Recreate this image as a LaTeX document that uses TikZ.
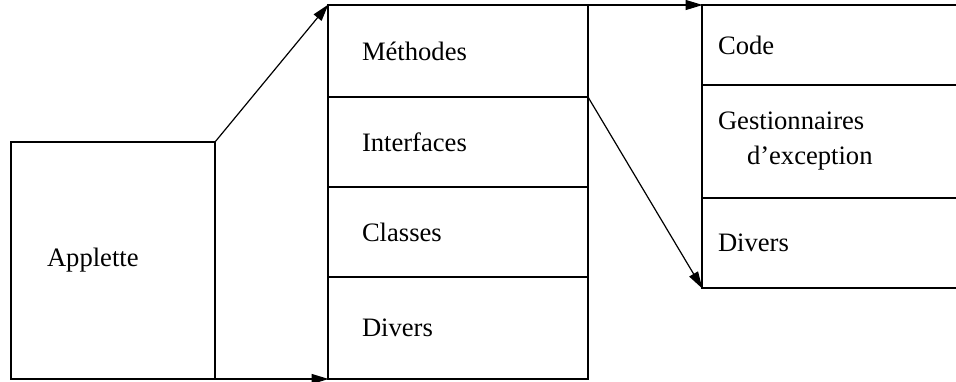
\documentclass[tikz,border=0pt]{standalone}
\usepackage{fontspec}
\setmainfont{Liberation Serif}
\usetikzlibrary{arrows.meta, positioning}

\tikzset{
  cell/.style={draw, line width=0.6pt, outer sep=0pt, inner ysep=0pt, align=left,
    font=\fontsize{13.3}{17.5}\selectfont},
  midcell/.style={cell, minimum width=130pt, inner xsep=17pt, text width=96pt},
  rightcell/.style={cell, minimum width=130pt, inner xsep=8pt, text width=114pt},
  link/.style={line width=0.6pt, -{Triangle[length=8.5pt, width=5pt]}, shorten >=-0.3pt}
}

\begin{document}
\begin{tikzpicture}[x=0.5pt, y=-0.5pt]
  \clip (0,0) rectangle (956,381);

  % --- applette ---
  \node[cell, anchor=north west, minimum width=102pt, minimum height=118.5pt,
        inner xsep=18pt, text width=66pt] (app) at (11,142) {Applette};

  % --- contenu de l'applette ---
  \node[midcell, anchor=north west, minimum height=46pt] (meth) at (328,5) {Méthodes};
  \node[midcell, minimum height=45pt, below=0pt of meth] (intf) {Interfaces};
  \node[midcell, minimum height=45pt, below=0pt of intf] (cls) {Classes};
  \node[midcell, minimum height=51pt, below=0pt of cls] (div) {Divers};

  % --- contenu d'une methode ---
  \node[rightcell, anchor=north west, minimum height=40pt] (code) at (702,5) {Code};
  \node[rightcell, minimum height=56.5pt, below=0pt of code] (gest)
        {Gestionnaires\\\hspace*{14.5pt}d'exception};
  \node[rightcell, minimum height=45pt, below=0pt of gest] (rdiv) {Divers};

  % --- fleches ---
  \draw[link] (app.north east) -- (meth.north west);
  \draw[link] (app.south east) -- (div.south west);
  \draw[link] (meth.north east) -- (code.north west);
  \draw[link] (meth.south east) -- (rdiv.south west);
\end{tikzpicture}
\end{document}
